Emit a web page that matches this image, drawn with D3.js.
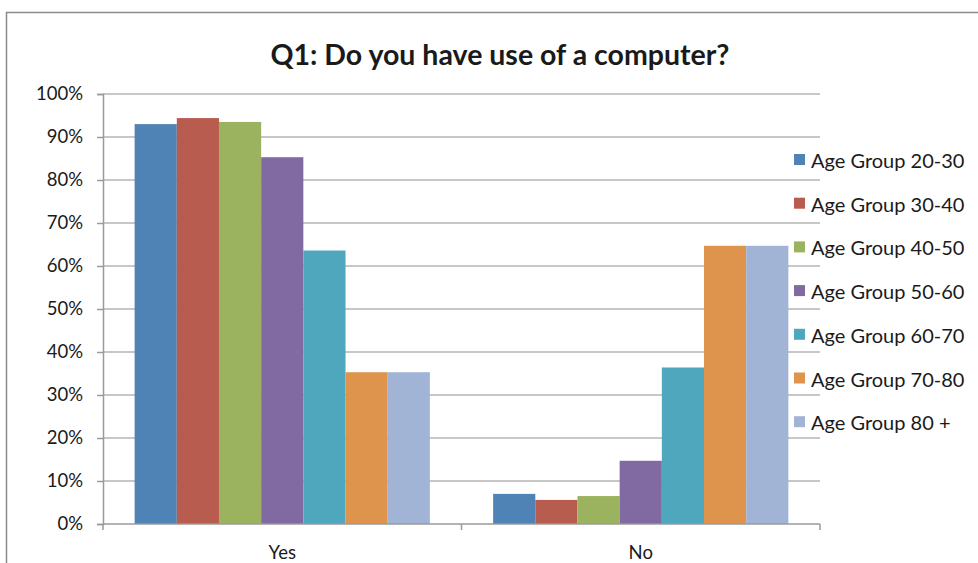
<!DOCTYPE html>
<html>
<head>
<meta charset="utf-8">
<script src="https://cdn.jsdelivr.net/npm/d3@7"></script>
<style>
  html, body { margin: 0; padding: 0; background: #fff; }
  svg { display: block; }
  text { font-family: Lato, "Open Sans", "Liberation Sans", sans-serif; fill: #1a1a1a; }
</style>
</head>
<body>
<svg id="chart" width="978" height="563"></svg>
<script>
// Answers to Q1, as the share of each age group
const categories = ["Yes", "No"];
const ageGroups = ["Age Group 20-30", "Age Group 30-40", "Age Group 40-50", "Age Group 50-60",
                   "Age Group 60-70", "Age Group 70-80", "Age Group 80 +"];
const yesValues = [0.930, 0.944, 0.935, 0.853, 0.636, 0.353, 0.353];
const noValues  = [0.070, 0.056, 0.065, 0.147, 0.364, 0.647, 0.647];
const colors = ["#5083b5", "#b95c50", "#9bb35e", "#816aa1", "#4fa7bd", "#de944c", "#a2b4d6"];
const yTicks = [0, 0.1, 0.2, 0.3, 0.4, 0.5, 0.6, 0.7, 0.8, 0.9, 1.0];
const titleText = "Q1: Do you have use of a computer?";

const seriesByCategory = { "Yes": yesValues, "No": noValues };

const svg = d3.select("#chart");
const plot = { left: 103, right: 820, top: 94, bottom: 524 };

// outer chart frame
svg.append("path")
  .attr("d", "M6.5,563 V12.5 H978")
  .attr("fill", "none")
  .attr("stroke", "#8c8c8c")
  .attr("stroke-width", 1.5);

svg.append("text")
  .attr("x", 500).attr("y", 65)
  .attr("text-anchor", "middle")
  .attr("font-size", 28.5).attr("font-weight", "bold")
  .attr("fill", "#111")
  .text(titleText);

// clusters: 7 bars plus a 150% gap between clusters
const x0 = d3.scaleBand().domain(categories).range([plot.left, plot.right]);
const barW = x0.bandwidth() / (ageGroups.length + 1.5);
const x1 = d3.scaleBand().domain(ageGroups).range([barW * 0.75, barW * 0.75 + barW * ageGroups.length]);
const y = d3.scaleLinear().domain([0, 1]).range([plot.bottom, plot.top]);

// gridlines
svg.append("g").selectAll("line")
  .data(yTicks.filter(t => t > 0))
  .join("line")
  .attr("x1", plot.left).attr("x2", plot.right)
  .attr("y1", d => y(d)).attr("y2", d => y(d))
  .attr("stroke", "#b4b4b4").attr("stroke-width", 1.5);

// y axis
const yAxis = svg.append("g")
  .attr("transform", `translate(${plot.left},0)`)
  .call(d3.axisLeft(y).tickValues(yTicks).tickFormat(d3.format(".0%")).tickSize(6).tickPadding(14));
yAxis.select(".domain").attr("stroke", "#9a9a9a").attr("stroke-width", 1.5);
yAxis.selectAll(".tick line").attr("stroke", "#9a9a9a").attr("stroke-width", 1.5);
yAxis.selectAll(".tick text").attr("font-size", 18.5).attr("font-family", null).attr("fill", "#1a1a1a");

// bars
const groups = svg.append("g").selectAll("g")
  .data(categories)
  .join("g")
  .attr("transform", c => `translate(${x0(c)},0)`);
groups.selectAll("rect")
  .data(c => seriesByCategory[c].map((v, i) => ({ group: ageGroups[i], value: v, color: colors[i] })))
  .join("rect")
  .attr("x", d => x1(d.group))
  .attr("width", x1.bandwidth())
  .attr("y", d => y(d.value))
  .attr("height", d => y(0) - y(d.value))
  .attr("fill", d => d.color);

// x axis
const xAxis = svg.append("g")
  .attr("transform", `translate(0,${plot.bottom})`)
  .call(d3.axisBottom(x0).tickSize(0).tickPadding(22));
xAxis.select(".domain").remove();
xAxis.selectAll(".tick text").attr("font-size", 18.5).attr("font-family", null).attr("fill", "#1a1a1a");
svg.append("line")
  .attr("x1", plot.left).attr("x2", plot.right)
  .attr("y1", plot.bottom).attr("y2", plot.bottom)
  .attr("stroke", "#9a9a9a").attr("stroke-width", 1.5);
svg.append("g").selectAll("line")
  .data([plot.left, x0("No"), plot.right])
  .join("line")
  .attr("x1", d => d).attr("x2", d => d)
  .attr("y1", plot.bottom).attr("y2", plot.bottom + 6)
  .attr("stroke", "#9a9a9a").attr("stroke-width", 1.5);

// legend
const legend = svg.append("g").attr("transform", "translate(794,154)");
const rows = legend.selectAll("g")
  .data(ageGroups)
  .join("g")
  .attr("transform", (d, i) => `translate(0,${i * 43.7})`);
rows.append("rect")
  .attr("width", 11).attr("height", 11)
  .attr("fill", (d, i) => colors[i]);
rows.append("text")
  .attr("x", 17).attr("y", 14)
  .attr("font-size", 20)
  .text(d => d);
</script>
</body>
</html>
